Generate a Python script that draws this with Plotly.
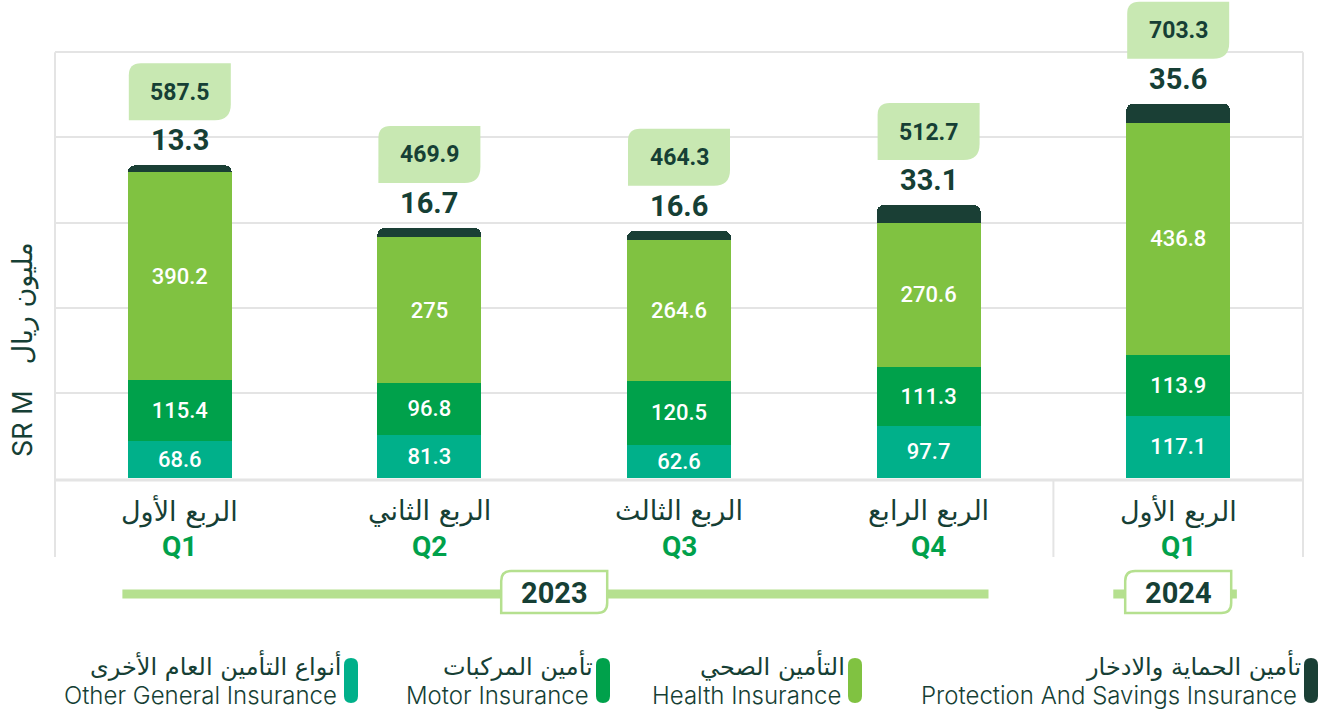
import plotly.graph_objects as go

# ---------------- data ----------------
quarters_ar = ["الربع الأول", "الربع الثاني", "الربع الثالث", "الربع الرابع", "الربع الأول"]
quarters_en = ["Q1", "Q2", "Q3", "Q4", "Q1"]
year_labels = ["2023", "2024"]
year_groups = [[0, 1, 2, 3], [4]]
other = [68.6, 81.3, 62.6, 97.7, 117.1]
motor = [115.4, 96.8, 120.5, 111.3, 113.9]
health = [390.2, 275, 264.6, 270.6, 436.8]
protection = [13.3, 16.7, 16.6, 33.1, 35.6]
totals = [587.5, 469.9, 464.3, 512.7, 703.3]
series_ar = ["أنواع التأمين العام الأخرى", "تأمين المركبات", "التأمين الصحي", "تأمين الحماية والادخار"]
series_en = ["Other General Insurance", "Motor Insurance", "Health Insurance", "Protection And Savings Insurance"]
y_title_en = "SR M"
y_title_ar = "مليون ريال"
grid_vals = [160, 320, 480, 640, 800]

# ---------------- style ----------------
C_OTHER = "#00B08A"
C_MOTOR = "#00A14B"
C_HEALTH = "#80C241"
C_PROT = "#1A3F35"
C_BOX = "#C8E8B2"
C_BAND = "#B5E08F"
C_TEXT = "#163F35"
C_GRID = "#E4E4E4"
NUM_FONT = "Roboto"
AR_FONT = "DejaVu Sans"
EN_FONT = "Inter"

W, H = 1325, 713
ML, MR, MT, MB = 55, 22, 0, 235
YMAX = 898
x = list(range(len(quarters_en)))
n = len(x)

fig = go.Figure()
seg = [(other, C_OTHER, series_en[0]), (motor, C_MOTOR, series_en[1]),
       (health, C_HEALTH, series_en[2]), (protection, C_PROT, series_en[3])]
for i, (vals, col, name) in enumerate(seg):
    fig.add_trace(go.Bar(
        x=x, y=vals, name=name, marker=dict(color=col, line=dict(width=0)),
        text=[f"{v:g}" for v in vals] if i < 3 else None,
        textposition="inside" if i < 3 else "none",
        insidetextanchor="middle",
        textfont=dict(family=NUM_FONT, size=22, color="white", weight=500),
        hoverinfo="skip", showlegend=False,
    ))

shapes = []
annotations = []


def rrect(x0, y0, x1, y1, tl=0, tr=0, br=0, bl=0):
    # y1 is top, y0 bottom (pixel offsets, y up)
    return (f"M {x0+tl},{y1} L {x1-tr},{y1} Q {x1},{y1} {x1},{y1-tr} "
            f"L {x1},{y0+br} Q {x1},{y0} {x1-br},{y0} L {x0+bl},{y0} "
            f"Q {x0},{y0} {x0},{y0+bl} L {x0},{y1-tl} Q {x0},{y1} {x0+tl},{y1} Z")


# total boxes + protection labels + x labels
for i in x:
    shapes.append(dict(type="path", xref="x", yref="y", xsizemode="pixel", ysizemode="pixel",
                       xanchor=i, yanchor=totals[i],
                       path=rrect(-51, 45, 51, 102, tl=12, tr=0, br=16, bl=0),
                       fillcolor=C_BOX, line=dict(width=0), layer="above"))
    annotations.append(dict(x=i, y=totals[i], xref="x", yref="y", yshift=73, showarrow=False,
                            text=f"<b>{totals[i]:g}</b>", xanchor="center", yanchor="middle",
                            font=dict(family=NUM_FONT, size=23, color=C_TEXT)))
    annotations.append(dict(x=i, y=totals[i], xref="x", yref="y", yshift=25, showarrow=False,
                            text=f"<b>{protection[i]:g}</b>", xanchor="center", yanchor="middle",
                            font=dict(family=NUM_FONT, size=29, color=C_TEXT)))
    annotations.append(dict(x=i, y=0, xref="x", yref="paper", yshift=-33, showarrow=False,
                            text=quarters_ar[i], xanchor="center", yanchor="middle",
                            font=dict(family=AR_FONT, size=27, color=C_TEXT)))
    annotations.append(dict(x=i, y=0, xref="x", yref="paper", yshift=-68, showarrow=False,
                            text=f"<b>{quarters_en[i]}</b>", xanchor="center", yanchor="middle",
                            font=dict(family=NUM_FONT, size=28, color=C_MOTOR)))

plot_h = H - MT - MB
plot_w = W - ML - MR


def px_to_py(py):
    return (H - MB - py) / plot_h


def cat_to_px(c):
    return (c + 0.5) / n


top_p = grid_vals[-1] / YMAX
bot_p = px_to_py(557)
sep_x = year_groups[1][0] / n
# frame lines
for xp, y0 in [(0, top_p), (sep_x, px_to_py(480)), (1, top_p)]:
    shapes.append(dict(type="line", xref="paper", yref="paper", x0=xp, x1=xp, y0=y0, y1=bot_p,
                       line=dict(color=C_GRID, width=2), layer="below"))
shapes.append(dict(type="line", xref="paper", yref="paper", x0=0, x1=1,
                   y0=px_to_py(480), y1=px_to_py(480), line=dict(color=C_GRID, width=3), layer="below"))

# year bands + boxes
band_y = px_to_py(594)
band_ext = [(-0.23, 0.24), (-0.26, 0.235)]
for lab, grp, (e0, e1) in zip(year_labels, year_groups, band_ext):
    c0, c1 = grp[0] + e0, grp[-1] + e1
    shapes.append(dict(type="line", xref="paper", yref="paper",
                       x0=cat_to_px(c0), x1=cat_to_px(c1), y0=band_y, y1=band_y,
                       line=dict(color=C_BAND, width=9), layer="above"))
    cx = cat_to_px((grp[0] + grp[-1]) / 2)
    shapes.append(dict(type="path", xref="paper", yref="paper", xsizemode="pixel", ysizemode="pixel",
                       xanchor=cx, yanchor=band_y,
                       path=rrect(-53, -19, 53, 23, tl=10, tr=0, br=10, bl=0),
                       fillcolor="white", line=dict(color=C_BAND, width=2.5), layer="above"))
    annotations.append(dict(x=cx, y=band_y, xref="paper", yref="paper", showarrow=False,
                            text=f"<b>{lab}</b>", xanchor="center", yanchor="middle", yshift=1,
                            font=dict(family=NUM_FONT, size=29, color=C_TEXT)))

# y title
annotations.append(dict(x=-33 / plot_w, y=px_to_py(350), xref="paper", yref="paper", showarrow=False,
                        textangle=-90,
                        text=f"<span style='font-family:{EN_FONT}'>{y_title_en}</span>   {y_title_ar}",
                        xanchor="center", yanchor="middle",
                        font=dict(family=AR_FONT, size=27, color=C_TEXT)))

# custom legend (right to left)
legend_pill_px = [344, 596, 848, 1304]
leg_cols = [C_OTHER, C_MOTOR, C_HEALTH, C_PROT]
for k in range(4):
    pxl = legend_pill_px[k]
    xa = (pxl - ML) / plot_w
    shapes.append(dict(type="path", xref="paper", yref="paper", xsizemode="pixel", ysizemode="pixel",
                       xanchor=xa, yanchor=px_to_py(680),
                       path=rrect(0, -23, 14, 22, tl=7, tr=7, br=7, bl=7),
                       fillcolor=leg_cols[k], line=dict(width=0)))
    annotations.append(dict(x=xa, y=px_to_py(665), xref="paper", yref="paper", showarrow=False, xshift=-1,
                            text=series_ar[k], xanchor="right", yanchor="middle",
                            font=dict(family=AR_FONT, size=24, color=C_TEXT)))
    annotations.append(dict(x=xa, y=px_to_py(695), xref="paper", yref="paper", showarrow=False, xshift=-5,
                            text=series_en[k], xanchor="right", yanchor="middle",
                            font=dict(family=EN_FONT, size=24, weight=300, color=C_TEXT)))

fig.update_layout(
    width=W, height=H, margin=dict(l=ML, r=MR, t=MT, b=MB),
    paper_bgcolor="white", plot_bgcolor="white",
    barmode="stack", bargap=0.583, barcornerradius=7,
    xaxis=dict(range=[-0.5, n - 0.5], showticklabels=False, showgrid=False, zeroline=False,
               showline=False, ticks=""),
    yaxis=dict(range=[0, YMAX], tickvals=grid_vals, showticklabels=False, showgrid=True,
               gridcolor=C_GRID, gridwidth=2, zeroline=False, showline=False, ticks=""),
    shapes=shapes, annotations=annotations,
    font=dict(family=NUM_FONT, color=C_TEXT),
    uniformtext=dict(mode="show", minsize=10),
)
fig.write_html("out.html", config={"displayModeBar": False},
               post_script="document.body.style.margin='0px';")
